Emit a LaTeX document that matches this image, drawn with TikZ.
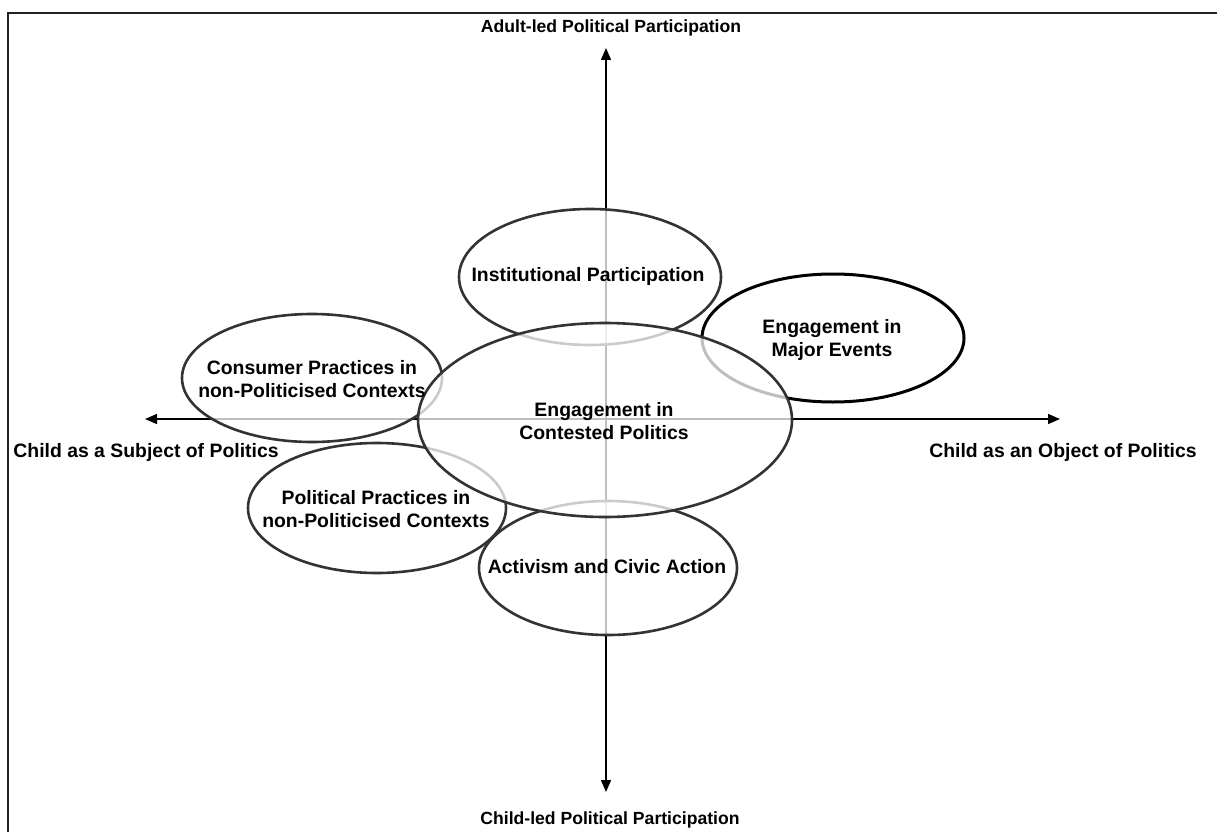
\documentclass[tikz,border=0pt]{standalone}
\usepackage{fontspec}
\setmainfont{Liberation Sans}
\usetikzlibrary{shapes.geometric,arrows.meta}
\definecolor{ellgray}{HTML}{333333}
\definecolor{framegray}{HTML}{222222}
\begin{document}
\begin{tikzpicture}[x=1pt,y=-1pt,
  ell/.style={ellipse, draw=ellgray, line width=2.6pt, fill=white, fill opacity=0.75, draw opacity=1, inner sep=0pt},
  txt/.style={font=\bfseries\fontsize{19.4}{22.5}\selectfont, align=center, text=black, inner sep=0pt},
  axlab/.style={font=\bfseries\fontsize{17.6}{21}\selectfont, text=black, inner sep=0pt},
  sidelab/.style={font=\bfseries\fontsize{19.4}{22}\selectfont, text=black, inner sep=0pt},
  axis/.style={line width=1.6pt, black, {Triangle[length=12pt,width=10pt]}-{Triangle[length=12pt,width=10pt]}},
  frame/.style={line width=2pt, framegray}]
\useasboundingbox (0,0) rectangle (1217,832);
\draw[frame] (8,832) -- (8,13) -- (1217,13);
% axis labels
\node[axlab] (tlab) at (611,28) {Adult-led Political Participation};
\node[axlab] (blab) at (610,820) {Child-led Political Participation};
\node[sidelab] (llab) at (146,452) {Child as a Subject of Politics};
\node[sidelab] (rlab) at (1063,452) {Child as an Object of Politics};
% axes
\coordinate (atop) at (606,48);
\coordinate (abot) at (606,792);
\coordinate (aleft) at (145,419);
\coordinate (aright) at (1060,419);
\draw[axis] (abot) -- (atop);
\draw[axis] (aleft) -- (aright);
% ellipses
\node[ell, minimum width=262pt, minimum height=136pt] (inst) at (590,277) {};
\node[ell, minimum width=260pt, minimum height=128pt] (cons) at (312,378) {};
\node[ell, minimum width=258pt, minimum height=130pt] (pol) at (377,508) {};
\node[ell, minimum width=258pt, minimum height=134pt] (act) at (608,568) {};
\node[ell, draw=black, line width=3pt, minimum width=262pt, minimum height=128pt] (major) at (833,338) {};
\node[ell, minimum width=374pt, minimum height=194pt] (cent) at (605,420) {};
% texts
\node[txt] (instt) at (588,276) {Institutional Participation};
\node[txt] (const) at (312,379) {Consumer Practices in\\non-Politicised Contexts};
\node[txt] (polt) at (376,509) {Political Practices in\\non-Politicised Contexts};
\node[txt] (actt) at (607,567) {Activism and Civic Action};
\node[txt] (majort) at (832,340) {Engagement in\\Major Events};
\node[txt] (centt) at (604,421) {Engagement in\\Contested Politics};
\end{tikzpicture}
\end{document}
